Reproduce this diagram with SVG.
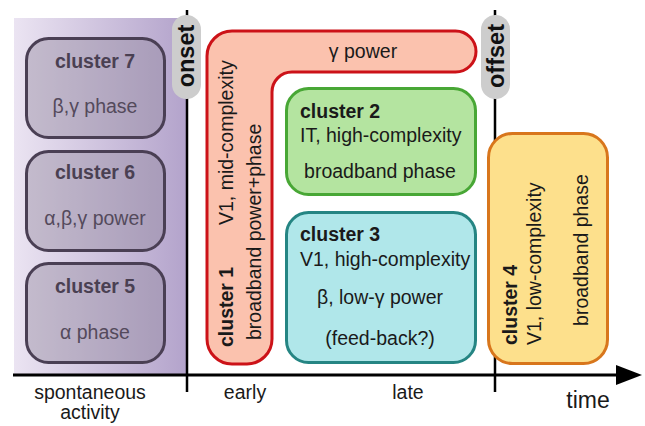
<svg xmlns="http://www.w3.org/2000/svg" width="645" height="426" viewBox="0 0 645 426">
  <defs>
    <linearGradient id="spont" x1="0" y1="0" x2="1" y2="0">
      <stop offset="0" stop-color="#ebe4f2"/>
      <stop offset="1" stop-color="#b3a3cb"/>
    </linearGradient>
    <style>
      text { font-family: "Liberation Sans", Arial, sans-serif; font-size: 19.5px; fill: #1a1a1a; }
      .b { font-weight: bold; }
      .mid { text-anchor: middle; }
      .spont rect { fill: #8f8499; fill-opacity: 0.4; stroke: #4a3f54; stroke-width: 3; }
      .spont text { fill: #544a5c; }
      .spont text.b { fill: #4a4052; }
      .axis { stroke: #000; stroke-width: 3; fill: none; }
      .mark { stroke: #000; stroke-width: 2.5; fill: none; }
      .pill { fill: #cdcdcd; }
      .pill-label { font-weight: bold; font-size: 23.5px; fill: #111; }
    </style>
  </defs>

  <!-- spontaneous-activity band -->
  <rect x="14" y="18" width="173" height="357" fill="url(#spont)"/>

  <!-- time axis and event markers -->
  <g id="connectors">
    <line class="axis" x1="13" y1="375" x2="620" y2="375"/>
    <polygon points="616,365 642,375 616,385" fill="#000"/>
    <line class="mark" x1="187" y1="10" x2="187" y2="392"/>
    <line class="mark" x1="495" y1="10" x2="495" y2="392"/>
  </g>

  <g id="onset">
    <rect class="pill" x="172" y="15" width="29" height="84" rx="14.5"/>
    <text class="pill-label mid" transform="translate(194,56) rotate(-90)">onset</text>
  </g>
  <g id="offset">
    <rect class="pill" x="481" y="15" width="29" height="84" rx="14.5"/>
    <text class="pill-label mid" transform="translate(504,56) rotate(-90)">offset</text>
  </g>

  <!-- spontaneous clusters -->
  <g id="cluster7" class="spont">
    <rect x="26.5" y="38.5" width="138" height="99" rx="22"/>
    <text class="b mid" x="95" y="68">cluster 7</text>
    <text class="mid" x="95" y="113">β,γ phase</text>
  </g>
  <g id="cluster6" class="spont">
    <rect x="26.5" y="151.5" width="138" height="99" rx="22"/>
    <text class="b mid" x="95" y="179">cluster 6</text>
    <text class="mid" x="95" y="225">α,β,γ power</text>
  </g>
  <g id="cluster5" class="spont">
    <rect x="26.5" y="263.5" width="138" height="99" rx="22"/>
    <text class="b mid" x="95" y="293">cluster 5</text>
    <text class="mid" x="95" y="339">α phase</text>
  </g>

  <!-- cluster 1: early, L-shaped -->
  <g id="cluster1">
    <path d="M232,31 H455.5 A20.5,20.5 0 0 1 455.5,72 H292 A20,20 0 0 0 272,92 V339 A25,25 0 0 1 247,364 H232 A25,25 0 0 1 207,339 V56 A25,25 0 0 1 232,31 Z" fill="#fbc2ae" stroke="#cc1218" stroke-width="3"/>
    <text class="mid" x="363" y="58">γ power</text>
    <text class="b" transform="translate(233,347) rotate(-90)">cluster 1</text>
    <text transform="translate(233,225) rotate(-90)">V1, mid-complexity</text>
    <text transform="translate(261,340) rotate(-90)">broadband power+phase</text>
  </g>

  <!-- cluster 2 -->
  <g id="cluster2">
    <rect x="286.5" y="88.5" width="189" height="106" rx="22" fill="#b4e4a0" stroke="#48a735" stroke-width="3"/>
    <text class="b" x="300" y="118">cluster 2</text>
    <text x="300" y="142">IT, high-complexity</text>
    <text class="mid" x="380" y="178">broadband phase</text>
  </g>

  <!-- cluster 3 -->
  <g id="cluster3">
    <rect x="286.5" y="212.5" width="189" height="150" rx="22" fill="#b0e7ea" stroke="#258583" stroke-width="3"/>
    <text class="b" x="300" y="241">cluster 3</text>
    <text x="300" y="266">V1, high-complexity</text>
    <text class="mid" x="380" y="304">β, low-γ power</text>
    <text class="mid" x="380" y="345">(feed-back?)</text>
  </g>

  <!-- cluster 4: after offset -->
  <g id="cluster4">
    <rect x="488.5" y="133.5" width="119" height="230" rx="24" fill="#fde08c" stroke="#d8761c" stroke-width="3"/>
    <text class="b" transform="translate(517,345) rotate(-90)">cluster 4</text>
    <text transform="translate(541,345) rotate(-90)">V1, low-complexity</text>
    <text class="mid" transform="translate(588,250) rotate(-90)">broadband phase</text>
  </g>

  <!-- axis labels -->
  <g id="labels">
    <text class="mid" x="90" y="399">spontaneous</text>
    <text class="mid" x="90" y="419">activity</text>
    <text class="mid" x="245" y="399">early</text>
    <text class="mid" x="408" y="399">late</text>
    <text class="mid" x="588" y="408" style="font-size:23px">time</text>
  </g>
</svg>
